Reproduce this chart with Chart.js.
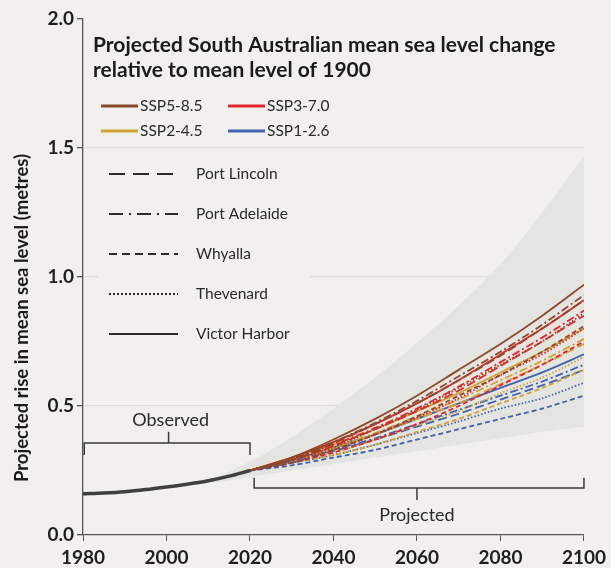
<!DOCTYPE html>
<html>
<head>
<meta charset="utf-8">
<script src="https://cdn.jsdelivr.net/npm/chart.js@4.4.1/dist/chart.umd.min.js"></script>
<style>
  html, body { margin: 0; padding: 0; background: #f1f0ec; }
  #wrap { width: 611px; height: 568px; }
</style>
</head>
<body>
<div id="wrap"><canvas id="chart" width="611" height="568"></canvas></div>
<script>
// Categorias
const scenarios = ['SSP5-8.5', 'SSP3-7.0', 'SSP2-4.5', 'SSP1-2.6'];
const stations = ['Port Lincoln', 'Port Adelaide', 'Whyalla', 'Thevenard', 'Victor Harbor'];
const xTicks = [1980, 2000, 2020, 2040, 2060, 2080, 2100];
const yTicks = [0, 0.5, 1.0, 1.5, 2.0];

// Observado
const obsYears = [1980, 1985, 1990, 1995, 2000, 2005, 2010, 2015, 2020];
const observed = [0.160, 0.163, 0.168, 0.176, 0.186, 0.197, 0.210, 0.228, 0.250];

// Rango sombreado
const bandYears = [2000, 2010, 2020, 2030, 2040, 2050, 2060, 2070, 2080, 2090, 2100];
const bandUpper = [0.19, 0.215, 0.285, 0.38, 0.49, 0.61, 0.745, 0.89, 1.05, 1.25, 1.47];
const bandLower = [0.185, 0.20, 0.225, 0.25, 0.275, 0.30, 0.325, 0.35, 0.375, 0.40, 0.42];

// Proyecciones (orden de estaciones: PL, PA, Wh, Th, VH)
const projYears = [2020, 2030, 2040, 2050, 2060, 2070, 2080, 2090, 2100];
const ssp585 = [
  [0.25, 0.29, 0.355, 0.43, 0.51, 0.60, 0.695, 0.80, 0.91],
  [0.25, 0.295, 0.36, 0.435, 0.52, 0.615, 0.71, 0.815, 0.93],
  [0.25, 0.28, 0.33, 0.39, 0.46, 0.54, 0.62, 0.71, 0.81],
  [0.25, 0.29, 0.34, 0.41, 0.485, 0.57, 0.66, 0.75, 0.86],
  [0.25, 0.30, 0.37, 0.45, 0.54, 0.64, 0.74, 0.85, 0.97]
];
const ssp370 = [
  [0.25, 0.29, 0.345, 0.41, 0.48, 0.56, 0.655, 0.75, 0.85],
  [0.25, 0.295, 0.35, 0.415, 0.49, 0.575, 0.67, 0.765, 0.87],
  [0.25, 0.28, 0.32, 0.37, 0.43, 0.50, 0.58, 0.66, 0.75],
  [0.25, 0.29, 0.33, 0.39, 0.455, 0.53, 0.62, 0.70, 0.80],
  [0.25, 0.30, 0.36, 0.43, 0.51, 0.60, 0.70, 0.80, 0.91]
];
const ssp245 = [
  [0.25, 0.29, 0.335, 0.39, 0.45, 0.51, 0.585, 0.66, 0.74],
  [0.25, 0.295, 0.34, 0.395, 0.46, 0.525, 0.60, 0.675, 0.76],
  [0.25, 0.28, 0.31, 0.35, 0.40, 0.45, 0.51, 0.57, 0.64],
  [0.25, 0.29, 0.32, 0.37, 0.425, 0.48, 0.55, 0.61, 0.69],
  [0.25, 0.30, 0.35, 0.41, 0.48, 0.55, 0.63, 0.71, 0.80]
];
const ssp126 = [
  [0.25, 0.28, 0.325, 0.37, 0.42, 0.47, 0.525, 0.58, 0.64],
  [0.25, 0.285, 0.33, 0.375, 0.43, 0.485, 0.54, 0.595, 0.66],
  [0.25, 0.27, 0.30, 0.33, 0.37, 0.41, 0.45, 0.49, 0.54],
  [0.25, 0.28, 0.31, 0.35, 0.395, 0.44, 0.49, 0.53, 0.59],
  [0.25, 0.29, 0.34, 0.39, 0.45, 0.51, 0.57, 0.63, 0.70]
];

const BG = '#f1f0ec';
const FONT = 'Lato, "Open Sans", sans-serif';
const scenarioColors = ['#8a4a2b', '#e3262d', '#cfa136', '#3f63ad'];
const stationDash = [[9, 4], [8, 3, 2, 3], [5, 3], [1.5, 2], []];

function pts(xs, ys) {
  return xs.map(function(x, i) { return { x: x, y: ys[i] }; });
}

const datasets = [];

datasets.push({
  label: 'Observed',
  data: pts(obsYears, observed),
  borderColor: '#3f3f3f',
  borderWidth: 3.5,
  pointRadius: 0,
  tension: 0.3,
  order: -1
});

[ssp585, ssp370, ssp245, ssp126].forEach(function(series, s) {
  series.forEach(function(vals, k) {
    datasets.push({
      label: scenarios[s] + ' ' + stations[k],
      data: pts(projYears, vals),
      borderColor: scenarioColors[s],
      borderWidth: 1.8,
      borderDash: stationDash[k],
      pointRadius: 0,
      tension: 0.3,
      order: s
    });
  });
});

datasets.push({
  label: 'band upper',
  data: pts(bandYears, bandUpper),
  borderWidth: 0,
  borderColor: 'transparent',
  backgroundColor: '#e4e4e1',
  pointRadius: 0,
  tension: 0.4,
  fill: '+1',
  order: 20
});
datasets.push({
  label: 'band lower',
  data: pts(bandYears, bandLower),
  borderWidth: 0,
  borderColor: 'transparent',
  pointRadius: 0,
  tension: 0.4,
  fill: false,
  order: 21
});

// Llave tipo corchete
function brace(ctx, x1, x2, y, yEnd, xm, yNub) {
  ctx.beginPath();
  ctx.moveTo(x1, yEnd);
  ctx.lineTo(x1, y);
  ctx.lineTo(x2, y);
  ctx.lineTo(x2, yEnd);
  ctx.moveTo(xm, y);
  ctx.lineTo(xm, yNub);
  ctx.stroke();
}

const decorPlugin = {
  id: 'decor',
  beforeDatasetsDraw: function(chart) {
    const ctx = chart.ctx;
    ctx.save();
    ctx.fillStyle = BG;
    ctx.fillRect(98, 152, 212, 195);
    ctx.restore();
  },
  afterDraw: function(chart) {
    const ctx = chart.ctx;
    const xs = chart.scales.x, ys = chart.scales.y;
    ctx.save();

    // Titulo
    ctx.fillStyle = '#1b1b1b';
    ctx.font = 'bold 21px ' + FONT;
    ctx.textAlign = 'left';
    ctx.textBaseline = 'middle';
    ctx.fillText('Projected South Australian mean sea level change', 93, 45);
    ctx.fillText('relative to mean level of 1900', 93, 70);

    // Titulo del eje Y
    ctx.save();
    ctx.translate(22, 318);
    ctx.rotate(-Math.PI / 2);
    ctx.textAlign = 'center';
    ctx.font = 'bold 18.5px ' + FONT;
    ctx.fillText('Projected rise in mean sea level (metres)', 0, 0);
    ctx.restore();

    // Leyenda de escenarios
    ctx.font = '15.5px ' + FONT;
    ctx.lineWidth = 3;
    const scenPos = [[101, 106], [228, 106], [101, 131], [228, 131]];
    scenarios.forEach(function(name, i) {
      const p = scenPos[i];
      ctx.strokeStyle = scenarioColors[i];
      ctx.beginPath();
      ctx.moveTo(p[0], p[1]);
      ctx.lineTo(p[0] + 37, p[1]);
      ctx.stroke();
      ctx.fillStyle = '#2a2a2a';
      ctx.fillText(name, p[0] + 39, p[1]);
    });

    // Leyenda de estaciones
    ctx.strokeStyle = '#2a2a2a';
    ctx.lineWidth = 2;
    const legendDash = [[16, 8], [14, 6, 2, 6], [8, 5], [2, 2], []];
    stations.forEach(function(name, i) {
      const y = 174 + i * 40;
      ctx.setLineDash(legendDash[i]);
      ctx.beginPath();
      ctx.moveTo(109, y);
      ctx.lineTo(178, y);
      ctx.stroke();
      ctx.setLineDash([]);
      ctx.fillStyle = '#2a2a2a';
      ctx.fillText(name, 196, y);
    });

    // Llaves Observed / Projected
    ctx.strokeStyle = '#3a3a3a';
    ctx.lineWidth = 1.5;
    brace(ctx, xs.getPixelForValue(1980.3), xs.getPixelForValue(2020), ys.getPixelForValue(0.357),
      ys.getPixelForValue(0.31), xs.getPixelForValue(2000.5), ys.getPixelForValue(0.40));
    brace(ctx, xs.getPixelForValue(2021), xs.getPixelForValue(2100), ys.getPixelForValue(0.182),
      ys.getPixelForValue(0.222), xs.getPixelForValue(2060), ys.getPixelForValue(0.136));
    ctx.fillStyle = '#2a2a2a';
    ctx.font = '18px ' + FONT;
    ctx.textAlign = 'center';
    ctx.fillText('Observed', xs.getPixelForValue(2001), ys.getPixelForValue(0.446));
    ctx.fillText('Projected', xs.getPixelForValue(2060), ys.getPixelForValue(0.078));
    ctx.restore();
  }
};

new Chart(document.getElementById('chart'), {
  type: 'line',
  data: { datasets: datasets },
  options: {
    responsive: false,
    animation: false,
    events: [],
    layout: { padding: { top: 19, right: 27, left: 0, bottom: 0 } },
    plugins: { legend: { display: false }, tooltip: { enabled: false } },
    scales: {
      x: {
        type: 'linear',
        min: 1980,
        max: 2100,
        afterBuildTicks: function(scale) {
          scale.ticks = xTicks.map(function(v) { return { value: v }; });
        },
        afterFit: function(scale) { scale.height = 33; },
        border: { color: '#555', width: 1.3 },
        grid: { drawOnChartArea: false, tickColor: '#555', tickLength: 6 },
        ticks: {
          color: '#1f1f1f',
          font: { family: FONT, size: 19, weight: 'bold' },
          padding: 5,
          maxRotation: 0,
          callback: function(v) { return String(v); }
        }
      },
      y: {
        min: 0,
        max: 2,
        afterBuildTicks: function(scale) {
          scale.ticks = yTicks.map(function(v) { return { value: v }; });
        },
        afterFit: function(scale) { scale.width = 83; },
        border: { color: '#555', width: 1.3 },
        grid: {
          color: function(c) {
            return (c.tick && (c.tick.value === 0 || c.tick.value === 2)) ? 'transparent' : '#dcdcd8';
          },
          lineWidth: 1.3,
          tickColor: '#555',
          tickLength: 6
        },
        ticks: {
          color: '#1f1f1f',
          font: { family: FONT, size: 19, weight: 'bold' },
          padding: 3,
          callback: function(v) { return Number(v).toFixed(1); }
        }
      }
    }
  },
  plugins: [decorPlugin]
});
</script>
</body>
</html>
